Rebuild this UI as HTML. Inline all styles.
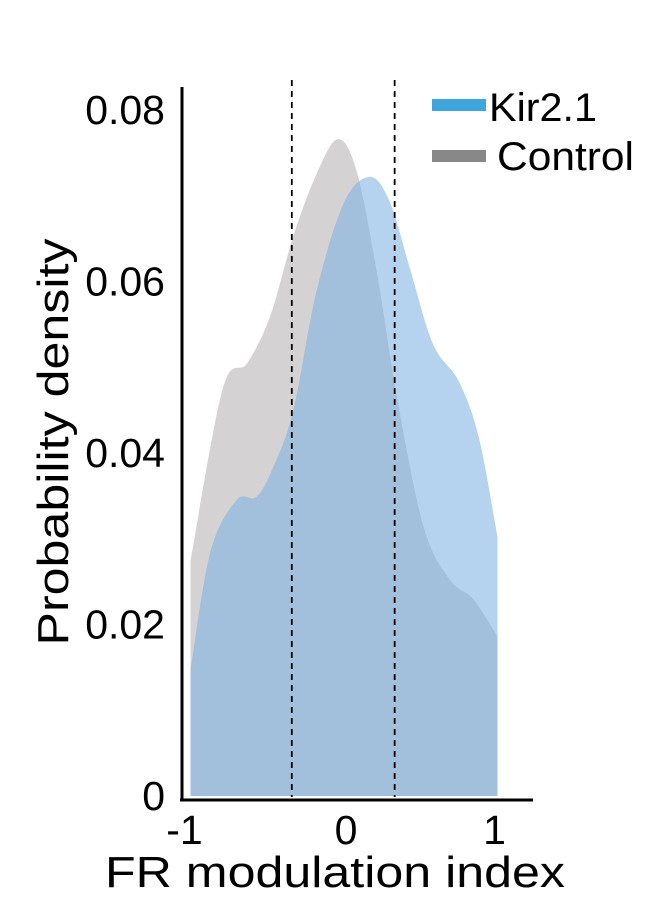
<!DOCTYPE html>
<html><head><meta charset="utf-8"><style>
html,body{margin:0;padding:0;background:#fff}
svg{display:block;font-family:"Liberation Sans",Arial,sans-serif}
</style></head><body>
<svg id="chart" width="654" height="906" viewBox="0 0 654 906">
<g id="fills"></g>
<g id="vlines"></g>
<g id="axes"></g>
<text x="68" y="442" font-size="44" text-anchor="middle" textLength="407" lengthAdjust="spacingAndGlyphs" transform="rotate(-90 68 442)">Probability density</text>
<text x="335" y="887" font-size="44" text-anchor="middle" textLength="460" lengthAdjust="spacingAndGlyphs">FR modulation index</text>
<g>
<rect x="432" y="99" width="54" height="12" fill="#3ea6dc"/>
<text x="489" y="121" font-size="40" textLength="108" lengthAdjust="spacingAndGlyphs">Kir2.1</text>
<rect x="432" y="150" width="54" height="12" fill="#888888"/>
<text x="497" y="170" font-size="40" textLength="137" lengthAdjust="spacingAndGlyphs">Control</text>
</g>
</svg>
<script>
const controlX=[-1,-0.79,-0.63,-0.48,-0.33,-0.18,-0.04,0.08,0.21,0.35,0.52,0.69,0.84,1.0];
const controlY=[0.0274,0.0475,0.0505,0.056,0.0653,0.0725,0.0766,0.073,0.0615,0.046,0.0313,0.0252,0.023,0.0186];
const kirX=[-1,-0.87,-0.7,-0.57,-0.46,-0.33,-0.18,0,0.17,0.30,0.43,0.58,0.75,0.88,1.0];
const kirY=[0.0147,0.0285,0.0345,0.0349,0.0384,0.045,0.0588,0.0692,0.0722,0.0692,0.0615,0.0527,0.0483,0.0417,0.0302];
const dashedX=[-0.34,0.33];
const yTicks=[0,0.02,0.04,0.06,0.08];
const yTickLabels=["0","0.02","0.04","0.06","0.08"];
const xTicks=[-1,0,1];
const xTickLabels=["-1","0","1"];

const sx=v=>344+v*153.5;
const sy=v=>796-v*8575;
const NS="http://www.w3.org/2000/svg";
function mk(t,attrs){const e=document.createElementNS(NS,t);for(const k in attrs)e.setAttribute(k,attrs[k]);return e;}
function smooth(xs,ys){
  const p=xs.map((x,i)=>[sx(x),sy(ys[i])]);
  let d=`M${sx(xs[0])},${sy(0)} L${p[0][0]},${p[0][1]}`;
  for(let i=0;i<p.length-1;i++){
    const p0=p[Math.max(i-1,0)],p1=p[i],p2=p[i+1],p3=p[Math.min(i+2,p.length-1)];
    const c1=[p1[0]+(p2[0]-p0[0])/6,p1[1]+(p2[1]-p0[1])/6];
    const c2=[p2[0]-(p3[0]-p1[0])/6,p2[1]-(p3[1]-p1[1])/6];
    d+=` C${c1[0]},${c1[1]} ${c2[0]},${c2[1]} ${p2[0]},${p2[1]}`;
  }
  d+=` L${sx(xs[xs.length-1])},${sy(0)} Z`;
  return d;
}
const fills=document.getElementById('fills');
const cp=mk('path',{d:smooth(controlX,controlY),fill:'#d5d2d3'});


fills.appendChild(cp);
const kp=mk('path',{d:smooth(kirX,kirY),fill:'rgb(120,175,225)','fill-opacity':'0.55'});


fills.appendChild(kp);
const vl=document.getElementById('vlines');
dashedX.forEach(v=>{
  const l=mk('line',{x1:sx(v),x2:sx(v),y1:80,y2:797,stroke:'#000','stroke-width':1.8,'stroke-dasharray':'6,5'});
  
  
  vl.appendChild(l);
});
const ax=document.getElementById('axes');
const ya=mk('line',{x1:182,x2:182,y1:87,y2:801,stroke:'#000','stroke-width':3});


ax.appendChild(ya);
const xa=mk('line',{x1:180,x2:533,y1:800,y2:800,stroke:'#000','stroke-width':3});


ax.appendChild(xa);
yTicks.forEach((v,i)=>{
  const t=mk('text',{x:165,y:sy(v)+14,'font-size':41,'text-anchor':'end'});
  t.textContent=yTickLabels[i];
  
  
  ax.appendChild(t);
});
xTicks.forEach((v,i)=>{
  const t=mk('text',{x:sx(v)+(v<0?-6:(v>0?-3:2)),y:844,'font-size':41,'text-anchor':'middle'});
  t.textContent=xTickLabels[i];
  
  
  ax.appendChild(t);
});
</script>
</body></html>
